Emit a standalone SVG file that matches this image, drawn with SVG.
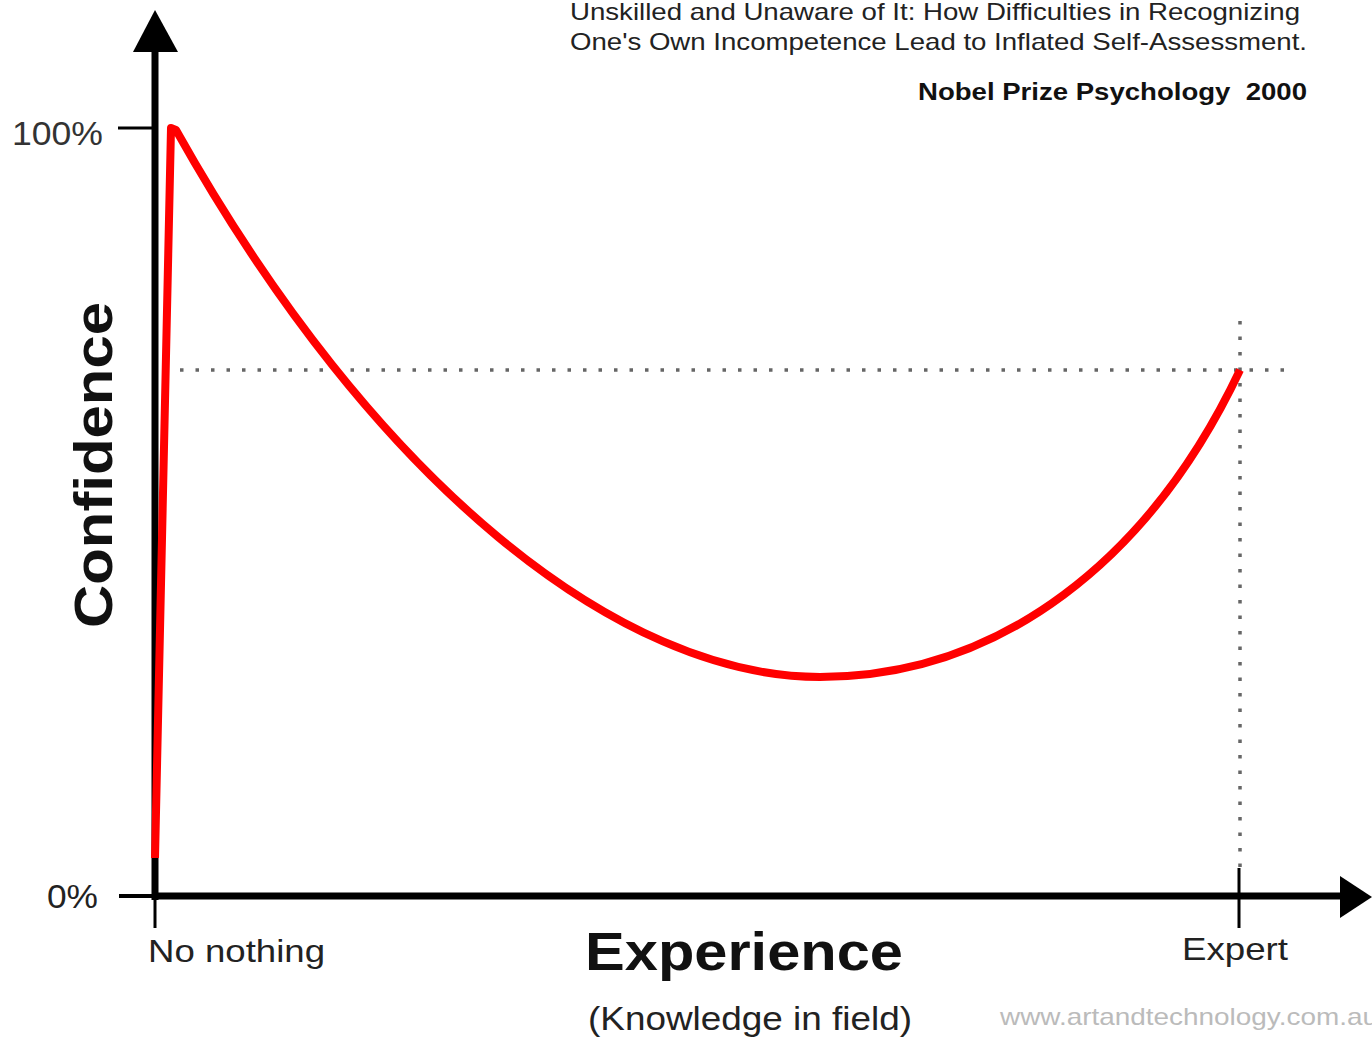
<svg xmlns="http://www.w3.org/2000/svg" width="1372" height="1038" viewBox="0 0 1372 1038">
<style>
.t{font-family:"Liberation Sans",Arial,sans-serif;fill:#222}
.b{font-weight:bold;fill:#111}
.dot{stroke:#666;stroke-width:3.5;stroke-dasharray:3.5 12;fill:none}
.ax{stroke:#000;fill:none}
</style>
<rect width="1372" height="1038" fill="#fff"/>
<g id="guides">
<line class="dot" x1="180" y1="370" x2="1292" y2="370"/>
<line class="dot" x1="1240" y1="321" x2="1240" y2="868"/>
</g>
<g id="axes">
<line class="ax" x1="155" y1="900" x2="155" y2="45" stroke-width="7"/>
<polygon points="155,10 133,52 178,52" fill="#000"/>
<line class="ax" x1="152" y1="896" x2="1345" y2="896" stroke-width="7"/>
<polygon points="1372,897 1340,876 1340,918" fill="#000"/>
<line class="ax" x1="118" y1="128" x2="155" y2="128" stroke-width="3"/>
<line class="ax" x1="119" y1="896" x2="155" y2="896" stroke-width="4"/>
<line class="ax" x1="155" y1="896" x2="155" y2="928" stroke-width="3"/>
<line class="ax" x1="1239" y1="868" x2="1239" y2="928" stroke-width="3"/>
</g>
<g id="curve">
<path d="M155,858 L171,128 L176,130 C375,485 620,677 820,677 C1000,677 1150,560 1240,370" fill="none" stroke="#ff0000" stroke-width="8" stroke-linejoin="round"/>
</g>
<g id="labels">
<text class="t" x="570" y="20" font-size="24" textLength="730" lengthAdjust="spacingAndGlyphs">Unskilled and Unaware of It: How Difficulties in Recognizing</text>
<text class="t" x="570" y="50" font-size="24" textLength="737" lengthAdjust="spacingAndGlyphs">One's Own Incompetence Lead to Inflated Self-Assessment.</text>
<text class="t b" x="918" y="100" font-size="24" textLength="389" lengthAdjust="spacingAndGlyphs" xml:space="preserve">Nobel Prize Psychology  2000</text>
<text class="t" x="12" y="145" font-size="34" style="fill:#333" textLength="91" lengthAdjust="spacingAndGlyphs">100%</text>
<text class="t" x="47" y="908" font-size="34" textLength="51" lengthAdjust="spacingAndGlyphs">0%</text>
<text class="t" x="148" y="962" font-size="32" textLength="177" lengthAdjust="spacingAndGlyphs">No nothing</text>
<text class="t b" x="585" y="970" font-size="53" textLength="318" lengthAdjust="spacingAndGlyphs">Experience</text>
<text class="t" x="588" y="1030" font-size="34" textLength="324" lengthAdjust="spacingAndGlyphs">(Knowledge in field)</text>
<text class="t" x="1182" y="960" font-size="32" textLength="106" lengthAdjust="spacingAndGlyphs">Expert</text>
<text class="t" x="1000" y="1025" font-size="24" style="fill:#bbb" textLength="378" lengthAdjust="spacingAndGlyphs">www.artandtechnology.com.au</text>
<text class="t b" transform="translate(112,465) rotate(-90)" text-anchor="middle" font-size="53" textLength="326" lengthAdjust="spacingAndGlyphs">Confidence</text>
</g>
</svg>
